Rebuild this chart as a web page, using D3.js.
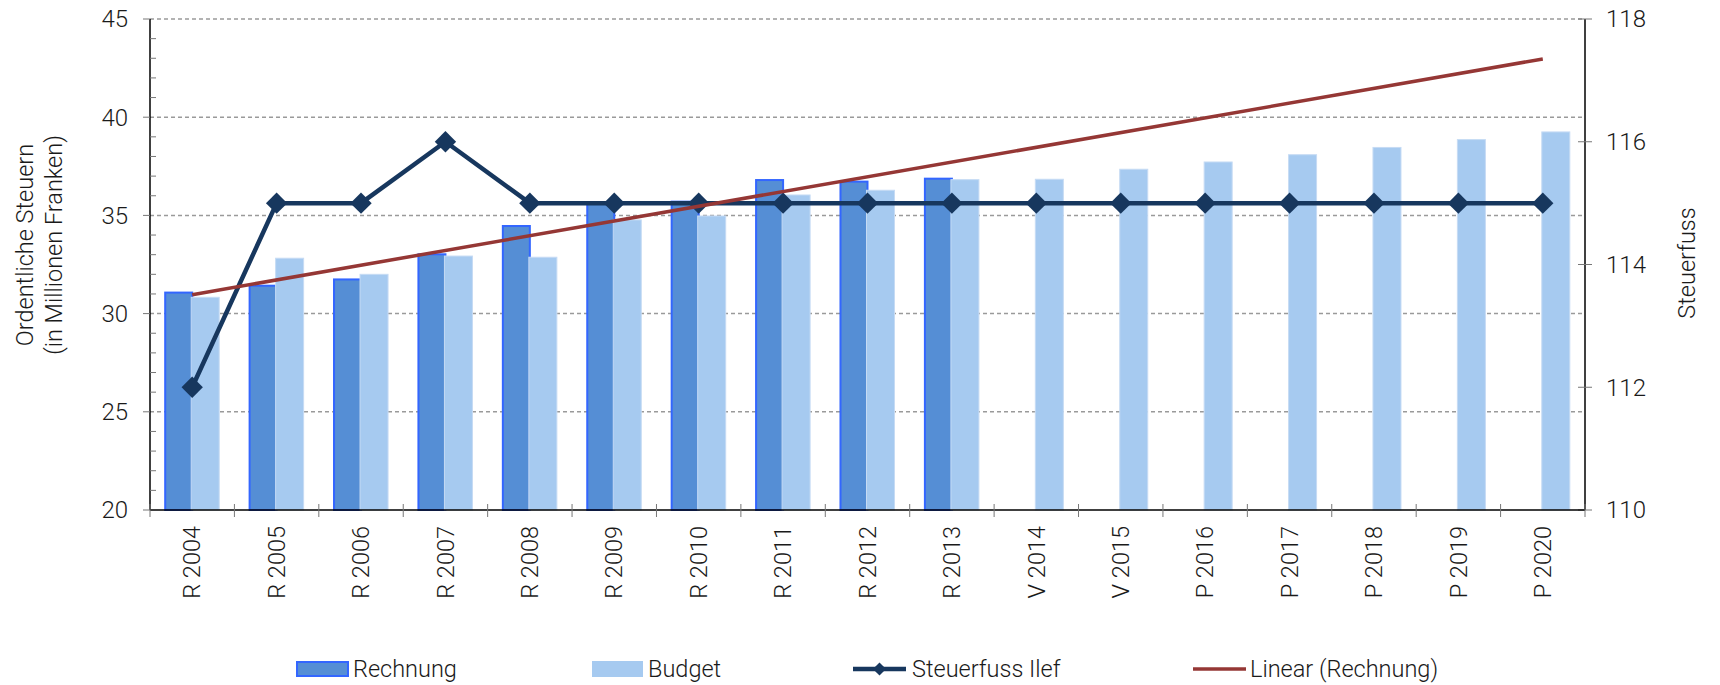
<!DOCTYPE html>
<html>
<head>
<meta charset="utf-8">
<script src="https://cdn.jsdelivr.net/npm/d3@7"></script>
<style>
    body { margin: 0; background: #fff; }
    text { font-family: "Roboto", "Liberation Sans", sans-serif; font-weight: 300; fill: #1a1a1a; }
</style>
</head>
<body>
<div id="chart"></div>
<script>
// data
var categories = ["R 2004", "R 2005", "R 2006", "R 2007", "R 2008", "R 2009", "R 2010", "R 2011", "R 2012",
    "R 2013", "V 2014", "V 2015", "P 2016", "P 2017", "P 2018", "P 2019", "P 2020"];
var rechnung = [31.07, 31.42, 31.74, 33.02, 34.46, 35.6, 35.7, 36.8, 36.72, 36.87];
var budget = [30.83, 32.82, 32.0, 32.93, 32.87, 34.77, 34.97, 36.04, 36.28, 36.82, 36.84, 37.35, 37.72, 38.09, 38.46, 38.86, 39.25];
var steuerfuss = [112, 115, 115, 116, 115, 115, 115, 115, 115, 115, 115, 115, 115, 115, 115, 115, 115];
var leftTicks = [20, 25, 30, 35, 40, 45];
var rightTicks = [110, 112, 114, 116, 118];

var W = 1720, H = 685;
var margin = {top: 19, right: 135, bottom: 175, left: 150};
var width = W - margin.left - margin.right,
    height = H - margin.top - margin.bottom;

var svg = d3.select("#chart").append("svg")
    .attr("width", W)
    .attr("height", H);

var g = svg.append("g")
    .attr("transform", "translate(" + margin.left + "," + margin.top + ")");

// scales
var x = d3.scaleBand().domain(categories).range([0, width]).padding(0);
var y = d3.scaleLinear().domain([20, 45]).range([height, 0]);
var y2 = d3.scaleLinear().domain([110, 118]).range([height, 0]);
var barW = x.bandwidth() * 0.32;
var cx = function(i) { return x(categories[i]) + x.bandwidth() / 2; };

// gridlines
g.append("g").selectAll("line")
    .data(leftTicks.filter(function(d) { return d > 20; }))
    .enter().append("line")
    .attr("x1", 0).attr("x2", width)
    .attr("y1", function(d) { return y(d); })
    .attr("y2", function(d) { return y(d); })
    .attr("stroke", "#9a9a9a")
    .attr("stroke-width", 1.5)
    .attr("stroke-dasharray", "4,3");

// bars
g.append("g").selectAll("rect")
    .data(rechnung)
    .enter().append("rect")
    .attr("x", function(d, i) { return cx(i) - barW; })
    .attr("y", function(d) { return y(d); })
    .attr("width", barW)
    .attr("height", function(d) { return height - y(d); })
    .attr("fill", "#558ed5")
    .attr("stroke", "#3366ff")
    .attr("stroke-width", 2);

g.append("g").selectAll("rect")
    .data(budget)
    .enter().append("rect")
    .attr("x", function(d, i) { return cx(i) - 1; })
    .attr("y", function(d) { return y(d); })
    .attr("width", barW + 1)
    .attr("height", function(d) { return height - y(d); })
    .attr("fill", "#a6caf0")
    .attr("stroke", "#c6dbf4")
    .attr("stroke-width", 1);

// Steuerfuss line (right axis)
var line = d3.line()
    .x(function(d, i) { return cx(i); })
    .y(function(d) { return y2(d); });

g.append("path")
    .datum(steuerfuss)
    .attr("fill", "none")
    .attr("stroke", "#17375e")
    .attr("stroke-width", 4.5)
    .attr("stroke-linejoin", "round")
    .attr("d", line);

var diamond = d3.symbol().type(d3.symbolDiamond2).size(290);
g.append("g").selectAll("path")
    .data(steuerfuss)
    .enter().append("path")
    .attr("d", diamond)
    .attr("transform", function(d, i) { return "translate(" + cx(i) + "," + y2(d) + ")"; })
    .attr("fill", "#17375e");

// linear trend of Rechnung (least squares, like the spreadsheet trendline)
var mx = d3.mean(rechnung, function(d, i) { return i; });
var my = d3.mean(rechnung);
var sxy = d3.sum(rechnung, function(d, i) { return (i - mx) * (d - my); });
var sxx = d3.sum(rechnung, function(d, i) { return (i - mx) * (i - mx); });
var slope = sxy / sxx, intercept = my - slope * mx;
var last = categories.length - 1;

g.append("line")
    .attr("x1", cx(0)).attr("y1", y(intercept))
    .attr("x2", cx(last)).attr("y2", y(intercept + slope * last))
    .attr("stroke", "#953735")
    .attr("stroke-width", 3.5);

// axes
var axisLeft = g.append("g");
axisLeft.append("line").attr("x1", 0).attr("x2", 0).attr("y1", 0).attr("y2", height)
    .attr("stroke", "#000").attr("stroke-width", 1.5);
// minor ticks every 1
axisLeft.selectAll(".minor")
    .data(d3.range(21, 45).filter(function(d) { return d % 5 != 0; }))
    .enter().append("line")
    .attr("x1", 0).attr("x2", 6)
    .attr("y1", function(d) { return y(d); }).attr("y2", function(d) { return y(d); })
    .attr("stroke", "#777").attr("stroke-width", 1);
axisLeft.selectAll(".major")
    .data(leftTicks)
    .enter().append("line")
    .attr("x1", -7).attr("x2", 0)
    .attr("y1", function(d) { return y(d); }).attr("y2", function(d) { return y(d); })
    .attr("stroke", "#777").attr("stroke-width", 1);
axisLeft.selectAll("text")
    .data(leftTicks)
    .enter().append("text")
    .attr("x", -22)
    .attr("y", function(d) { return y(d); })
    .attr("dy", "0.35em")
    .attr("text-anchor", "end")
    .style("font-size", "24px")
    .text(function(d) { return d; });

var axisRight = g.append("g").attr("transform", "translate(" + width + ",0)");
axisRight.append("line").attr("x1", 0).attr("x2", 0).attr("y1", 0).attr("y2", height)
    .attr("stroke", "#000").attr("stroke-width", 1.5);
axisRight.selectAll("line.t")
    .data(rightTicks)
    .enter().append("line")
    .attr("class", "t")
    .attr("x1", -7).attr("x2", 7)
    .attr("y1", function(d) { return y2(d); }).attr("y2", function(d) { return y2(d); })
    .attr("stroke", "#777").attr("stroke-width", 1);
axisRight.selectAll("text")
    .data(rightTicks)
    .enter().append("text")
    .attr("x", 21)
    .attr("y", function(d) { return y2(d); })
    .attr("dy", "0.35em")
    .style("font-size", "24px")
    .text(function(d) { return d; });

var axisBottom = g.append("g").attr("transform", "translate(0," + height + ")");
axisBottom.append("line").attr("x1", 0).attr("x2", width)
    .attr("stroke", "#000").attr("stroke-width", 1.5);
axisBottom.selectAll("line.t")
    .data(d3.range(categories.length + 1))
    .enter().append("line")
    .attr("class", "t")
    .attr("x1", function(i) { return i * x.step(); })
    .attr("x2", function(i) { return i * x.step(); })
    .attr("y1", -6).attr("y2", 7)
    .attr("stroke", "#777").attr("stroke-width", 1);
axisBottom.selectAll("text")
    .data(categories)
    .enter().append("text")
    .attr("transform", function(d, i) { return "translate(" + cx(i) + ",16) rotate(-90)"; })
    .attr("dy", "0.35em")
    .attr("text-anchor", "end")
    .style("font-size", "23.5px")
    .text(function(d) { return d; });

// axis titles
var ttl = svg.append("text")
    .attr("transform", "translate(38,245) rotate(-90)")
    .attr("text-anchor", "middle")
    .style("font-size", "23.5px");
ttl.append("tspan").attr("x", 0).attr("dy", "-0.2em").text("Ordentliche Steuern");
ttl.append("tspan").attr("x", 0).attr("dy", "1.2em").text("(in Millionen Franken)");

svg.append("text")
    .attr("transform", "translate(1687,263) rotate(-90)")
    .attr("text-anchor", "middle")
    .attr("dy", "0.35em")
    .style("font-size", "23.5px")
    .text("Steuerfuss");

// legend
var legend = svg.append("g").attr("transform", "translate(0,669)");
legend.append("rect").attr("x", 297).attr("y", -7).attr("width", 51).attr("height", 14)
    .attr("fill", "#558ed5").attr("stroke", "#3366ff").attr("stroke-width", 2);
legend.append("text").attr("x", 353).attr("dy", "0.35em").style("font-size", "23.5px").text("Rechnung");

legend.append("rect").attr("x", 592).attr("y", -8).attr("width", 51).attr("height", 16)
    .attr("fill", "#a6caf0");
legend.append("text").attr("x", 648).attr("dy", "0.35em").style("font-size", "23.5px").text("Budget");

legend.append("line").attr("x1", 853).attr("x2", 906)
    .attr("stroke", "#17375e").attr("stroke-width", 4.5);
legend.append("path").attr("d", d3.symbol().type(d3.symbolDiamond2).size(110))
    .attr("transform", "translate(879.5,0)").attr("fill", "#17375e");
legend.append("text").attr("x", 912).attr("dy", "0.35em").style("font-size", "23.5px").text("Steuerfuss Ilef");

legend.append("line").attr("x1", 1193).attr("x2", 1246)
    .attr("stroke", "#953735").attr("stroke-width", 3.5);
legend.append("text").attr("x", 1250).attr("dy", "0.35em").style("font-size", "23.5px").text("Linear (Rechnung)");
</script>
</body>
</html>
